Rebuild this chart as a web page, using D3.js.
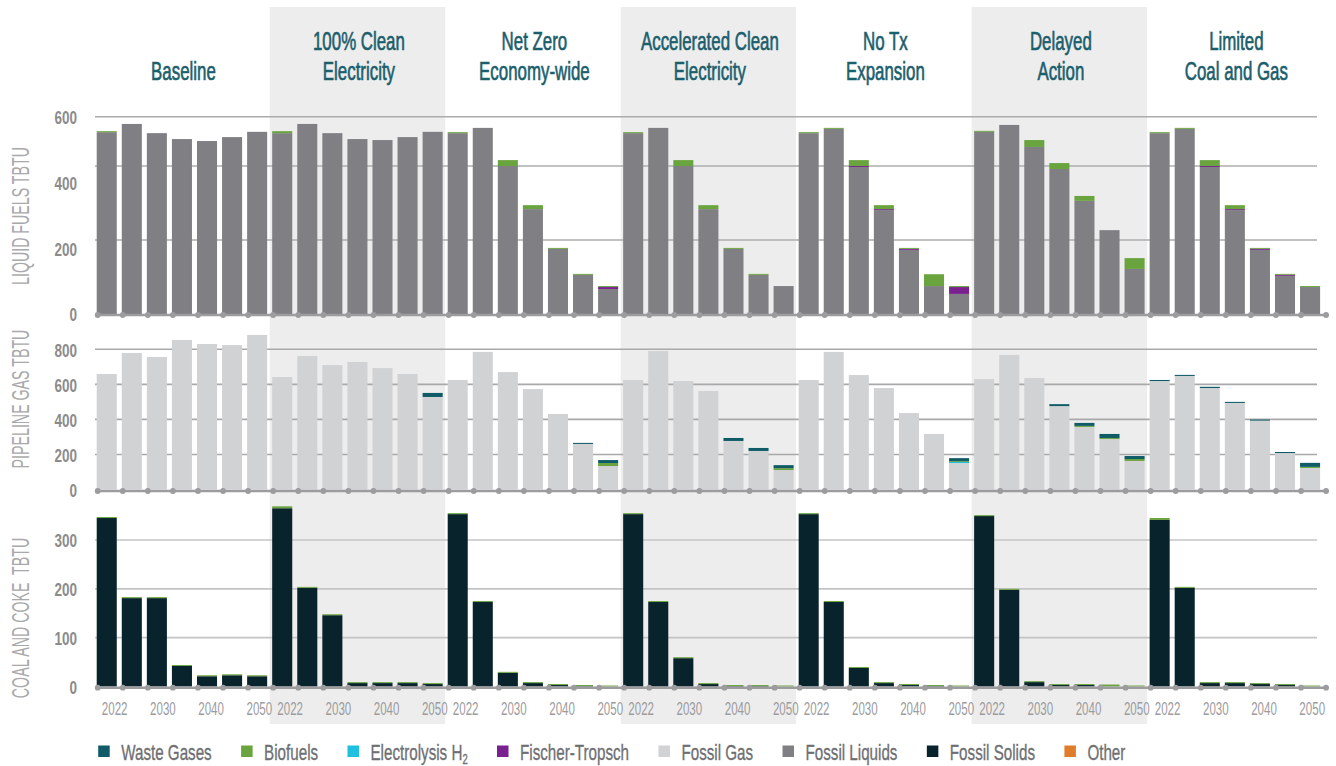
<!DOCTYPE html>
<html>
<head>
<meta charset="utf-8">
<script src="https://cdn.jsdelivr.net/npm/d3@7"></script>
<style>
  html, body { margin: 0; padding: 0; background: #ffffff; }
  svg { display: block; }
</style>
</head>
<body>
<svg id="chart" width="1336" height="766"></svg>
<script>
// ---- Data -------------------------------------------------------------
const scenarioTitles = [
  ["", "Baseline"],
  ["100% Clean", "Electricity"],
  ["Net Zero", "Economy-wide"],
  ["Accelerated Clean", "Electricity"],
  ["No Tx", "Expansion"],
  ["Delayed", "Action"],
  ["Limited", "Coal and Gas"]
];
const years = [2022, 2025, 2030, 2035, 2040, 2045, 2050];
const yearLabels = [2022, 2030, 2040, 2050];

const legendItems = ["Waste Gases", "Biofuels", "Electrolysis H2", "Fischer-Tropsch",
                     "Fossil Gas", "Fossil Liquids", "Fossil Solids", "Other"];

// Liquid fuels (TBtu), 7 years per scenario, scenarios in title order
const liquidFossil = [
  553, 578, 550, 532, 526, 538, 554,
  550, 578, 550, 532, 529, 538, 554,
  550, 566, 450, 319, 198, 119, 76,
  550, 566, 450, 319, 198, 119, 85,
  550, 563, 447, 316, 195, 85, 61,
  554, 575, 508, 441, 344, 255, 137,
  550, 563, 447, 316, 195, 116, 82
];
const liquidFischerTropsch = [
  0, 0, 0, 0, 0, 0, 0,
  0, 0, 0, 0, 0, 0, 0,
  0, 0, 0, 0, 0, 0, 6,
  0, 0, 0, 0, 0, 0, 0,
  0, 0, 3, 3, 3, 0, 21,
  0, 0, 0, 0, 0, 0, 0,
  0, 0, 3, 3, 3, 3, 0
];
const liquidBiofuels = [
  3, 0, 0, 0, 0, 0, 0,
  6, 0, 0, 0, 0, 0, 0,
  3, 0, 18, 12, 3, 3, 3,
  3, 0, 18, 12, 3, 3, 0,
  3, 3, 18, 12, 3, 36, 3,
  3, 0, 21, 18, 15, 0, 33,
  3, 3, 18, 12, 3, 3, 3
];

// Pipeline gas (TBtu)
const gasFossil = [
  659, 779, 756, 853, 830, 824, 882,
  642, 762, 710, 728, 693, 659, 528,
  625, 785, 670, 573, 431, 260, 134,
  625, 790, 619, 562, 277, 220, 111,
  625, 785, 653, 579, 436, 317, 151,
  630, 768, 636, 476, 357, 288, 163,
  619, 648, 579, 494, 393, 208, 123
];
const gasElectrolysisH2 = [
  0, 0, 0, 0, 0, 0, 0,
  0, 0, 0, 0, 0, 0, 0,
  0, 0, 0, 0, 0, 0, 0,
  0, 0, 0, 0, 0, 0, 0,
  0, 0, 0, 0, 0, 0, 6,
  0, 0, 0, 0, 0, 0, 0,
  0, 0, 0, 0, 0, 0, 0
];
const gasBiofuels = [
  0, 0, 0, 0, 0, 0, 0,
  0, 0, 0, 0, 0, 0, 0,
  0, 0, 0, 0, 0, 0, 17,
  0, 0, 0, 0, 0, 0, 11,
  0, 0, 0, 0, 0, 0, 5,
  0, 0, 0, 0, 6, 6, 11,
  0, 0, 0, 0, 0, 0, 6
];
const gasWasteGases = [
  0, 0, 0, 0, 0, 0, 0,
  0, 0, 0, 0, 0, 0, 23,
  0, 0, 0, 0, 0, 6, 17,
  0, 0, 0, 0, 17, 17, 17,
  0, 0, 0, 0, 0, 0, 17,
  0, 0, 0, 11, 17, 23, 17,
  6, 6, 7, 6, 6, 6, 23
];

// Coal and coke (TBtu)
const coalFossil = [
  345, 181, 181, 42, 21, 23, 21,
  365, 202, 146, 7, 7, 7, 5,
  353, 173, 28, 7, 3, 1, 0,
  353, 173, 58, 5, 1, 1, 0,
  353, 173, 38, 7, 3, 1, 0,
  349, 198, 9, 3, 3, 0, 0,
  341, 202, 7, 7, 5, 3, 0
];
const coalBiofuels = [
  2, 2, 2, 2, 2, 2, 2,
  4, 2, 2, 2, 2, 2, 2,
  2, 2, 2, 2, 2, 2, 2,
  2, 2, 2, 2, 2, 2, 2,
  2, 2, 2, 2, 2, 2, 2,
  2, 2, 2, 2, 2, 4, 2,
  4, 2, 2, 2, 2, 2, 2
];

const liquidTicks = [0, 200, 400, 600];
const liquidGrid = [225, 450, 600];
const gasTicks = [0, 200, 400, 600, 800];
const gasGrid = [200, 400, 600, 800];
const coalTicks = [0, 100, 200, 300];
const coalGrid = [100, 200, 300];

// ---- Styles -----------------------------------------------------------
const colors = {
  "Waste Gases": "#0f5b67",
  "Biofuels": "#6aa43e",
  "Electrolysis H2": "#1ec0df",
  "Fischer-Tropsch": "#7a2190",
  "Fossil Gas": "#d1d2d4",
  "Fossil Liquids": "#808084",
  "Fossil Solids": "#08232b",
  "Other": "#e07d2c"
};
const stackKeys = ["fossil", "h2", "ft", "bio", "waste", "other"];
const keyColor = { h2: colors["Electrolysis H2"], ft: colors["Fischer-Tropsch"],
                   bio: colors["Biofuels"], waste: colors["Waste Gases"], other: colors["Other"] };

const FONT = "'Liberation Sans Narrow','Liberation Sans',Arial,sans-serif";
const svg = d3.select("#chart");

function measure(str, size, weight) {
  const t = svg.append("text").attr("font-family", FONT)
    .attr("font-size", size).attr("font-weight", weight).text(str);
  const w = t.node().getComputedTextLength();
  t.remove();
  return w;
}
// condensed text: horizontal squeeze fitted so a sample string has the wanted width
const textStyles = {
  title:  { size: 25.5, weight: 400, stroke: 0.65, fill: "#1b5e6c", sample: "Economy-wide", width: 110.7 },
  tick:   { size: 19, weight: 700, stroke: 0, fill: "#8b8b8d", sample: "600", width: 22.5 },
  year:   { size: 19, weight: 400, stroke: 0, fill: "#9c9c9e", sample: "2022", width: 25.7 },
  yTitle: { size: 24, weight: 400, stroke: 0, fill: "#a9a9ab", sample: "LIQUID FUELS TBTU", width: 138 },
  legend: { size: 23, weight: 400, stroke: 0.35, fill: "#6e6f72", sample: "Waste Gases", width: 90.6 }
};
Object.values(textStyles).forEach(s => { s.sx = s.width / measure(s.sample, s.size, s.weight); });

function styleText(sel, st) {
  sel.attr("font-family", FONT)
    .attr("font-size", st.size)
    .attr("font-weight", st.weight)
    .attr("fill", st.fill);
  if (st.stroke) sel.attr("stroke", st.fill).attr("stroke-width", st.stroke);
  return sel;
}

function drawText(parent, x, y, str, st, anchor, rotate) {
  const g = parent.append("g")
    .attr("transform", `translate(${x},${y})${rotate ? " rotate(-90)" : ""} scale(${st.sx},1)`);
  return styleText(g.append("text"), st)
    .attr("text-anchor", anchor)
    .style("white-space", "pre")
    .text(str);
}

// ---- Scales -----------------------------------------------------------
const nYears = years.length;
const nBars = scenarioTitles.length * nYears;
const x = d3.scaleBand().domain(d3.range(nBars))
  .range([94.2, 1322.6]).paddingInner(0.2).paddingOuter(0.1);
const step = x.step();
const groupStart = s => x(s * nYears) - step * 0.1;
const groupWidth = step * nYears;

// shaded scenario bands
svg.append("g").selectAll("rect")
  .data(d3.range(scenarioTitles.length).filter(s => s % 2 === 1))
  .join("rect")
  .attr("x", s => groupStart(s))
  .attr("y", 7)
  .attr("width", groupWidth)
  .attr("height", 717)
  .attr("fill", "#ededed");

// scenario titles
scenarioTitles.forEach((lines, s) => {
  const cx = groupStart(s) + groupWidth / 2 + 1.5;
  lines.forEach((line, k) => {
    if (line) drawText(svg, cx, 50 + k * 30, line, textStyles.title, "middle");
  });
});

// ---- Panels -----------------------------------------------------------
const panels = [
  { label: "LIQUID FUELS TBTU", fossilColor: colors["Fossil Liquids"],
    series: { fossil: liquidFossil, ft: liquidFischerTropsch, bio: liquidBiofuels },
    ticks: liquidTicks, grid: liquidGrid, domain: [0, 600], range: [314, 116.7],
    axisY: 315, labelY: 216, gridColor: "#acacae" },
  { label: "PIPELINE GAS TBTU", fossilColor: colors["Fossil Gas"],
    series: { fossil: gasFossil, h2: gasElectrolysisH2, bio: gasBiofuels, waste: gasWasteGases },
    ticks: gasTicks, grid: gasGrid, domain: [0, 800], range: [489.5, 349.3],
    axisY: 491, labelY: 399, gridColor: "#a9a9ab" },
  { label: "COAL AND COKE  TBTU", fossilColor: colors["Fossil Solids"],
    series: { fossil: coalFossil, bio: coalBiofuels },
    ticks: coalTicks, grid: coalGrid, domain: [0, 300], range: [686.5, 540],
    axisY: 687.7, labelY: 618, gridColor: "#c4c4c6" }
];

panels.forEach(p => {
  const y = d3.scaleLinear().domain(p.domain).range(p.range);
  const g = svg.append("g");

  // gridlines
  g.append("g").selectAll("line").data(p.grid).join("line")
    .attr("x1", 95).attr("x2", 1317)
    .attr("y1", d => y(d)).attr("y2", d => y(d))
    .attr("stroke", p.gridColor).attr("stroke-width", 1.6);

  // stacked bars
  const rows = d3.range(nBars).map(i => {
    const r = { i };
    stackKeys.forEach(k => { r[k] = p.series[k] ? p.series[k][i] : 0; });
    return r;
  });
  const layers = d3.stack().keys(stackKeys)(rows);
  g.append("g").selectAll("g").data(layers).join("g")
    .attr("fill", l => l.key === "fossil" ? p.fossilColor : keyColor[l.key])
    .selectAll("rect")
    .data(l => l.filter(d => d[1] - d[0] > 0))
    .join("rect")
    .attr("x", d => x(d.data.i))
    .attr("width", x.bandwidth())
    .attr("y", d => y(d[1]))
    .attr("height", d => y(d[0]) - y(d[1]));

  // baseline with markers
  g.append("line")
    .attr("x1", 96).attr("x2", 1326)
    .attr("y1", p.axisY).attr("y2", p.axisY)
    .attr("stroke", "#9c9c9e").attr("stroke-width", 2.6);
  g.append("g").selectAll("circle").data(d3.range(nBars + 1)).join("circle")
    .attr("cx", i => x(0) + 1 + i * step)
    .attr("cy", p.axisY)
    .attr("r", 2.9)
    .attr("fill", "#9c9c9e");

  // value axis
  const st = textStyles.tick;
  const ax = g.append("g").attr("transform", "translate(77,0)")
    .call(d3.axisLeft(y).tickValues(p.ticks).tickSize(0).tickPadding(0).tickFormat(d3.format("d")));
  ax.select(".domain").remove();
  styleText(ax.selectAll("text"), st)
    .attr("x", 0).attr("dy", "0.36em")
    .attr("transform", `scale(${st.sx},1)`);

  // panel label
  drawText(svg, 20, p.labelY, p.label, textStyles.yTitle, "middle", true)
    .attr("dominant-baseline", "central");
});

// year labels under the bottom panel: one evenly spaced year axis per scenario
{
  const st = textStyles.year;
  scenarioTitles.forEach((_, s) => {
    const gx = d3.scalePoint().domain(yearLabels)
      .range([groupStart(s) + 20, groupStart(s) + 164.6]);
    const ax = svg.append("g").attr("transform", "translate(0,715)")
      .call(d3.axisBottom(gx).tickSize(0).tickPadding(0).tickFormat(d3.format("d")));
    ax.select(".domain").remove();
    styleText(ax.selectAll("text"), st)
      .attr("y", 0).attr("dy", 0)
      .attr("transform", `scale(${st.sx},1)`);
  });
}

// ---- Legend -----------------------------------------------------------
{
  const st = textStyles.legend;
  const lg = svg.append("g");
  let lx = 98.2;
  legendItems.forEach(name => {
    lg.append("rect").attr("x", lx).attr("y", 745.5)
      .attr("width", 11.5).attr("height", 11.5).attr("fill", colors[name]);
    let t;
    if (name === "Electrolysis H2") {
      t = drawText(lg, lx + 23, 759.5, "Electrolysis H", st, "start");
      t.append("tspan").attr("font-size", st.size * 0.62).attr("dy", 4).text("2");
    } else {
      t = drawText(lg, lx + 23, 759.5, name, st, "start");
    }
    const w = t.node().getComputedTextLength() * st.sx;
    lx += 23 + w + 29.4;
  });
}
</script>
</body>
</html>
